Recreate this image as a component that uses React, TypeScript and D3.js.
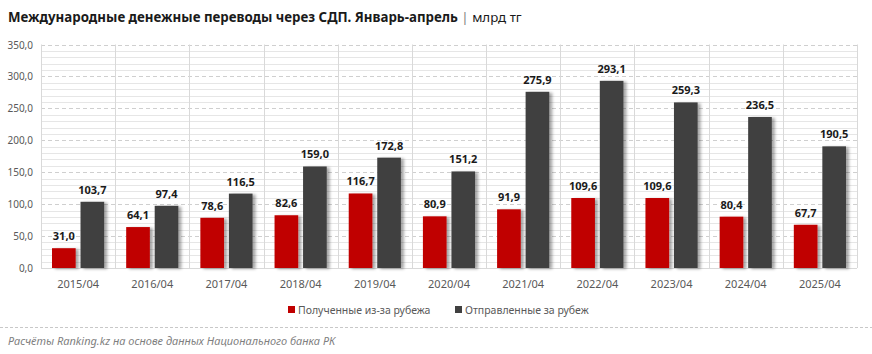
import { useEffect, useRef } from 'react';
import * as d3 from 'd3';

const categories = ['2015/04', '2016/04', '2017/04', '2018/04', '2019/04', '2020/04', '2021/04', '2022/04', '2023/04', '2024/04', '2025/04'];
const received = [31.0, 64.1, 78.6, 82.6, 116.7, 80.9, 91.9, 109.6, 109.6, 80.4, 67.7];
const sent = [103.7, 97.4, 116.5, 159.0, 172.8, 151.2, 275.9, 293.1, 259.3, 236.5, 190.5];
const seriesNames = ['Полученные из-за рубежа', 'Отправленные за рубеж'];
const colors = ['#C00000', '#404040'];

const W = 872;
const H = 354;
const font = '"Noto Sans", "Open Sans", sans-serif';

export default function App() {
    const svgRef = useRef<SVGSVGElement>(null);

    useEffect(() => {
        if (!svgRef.current) return;
        const root = d3.select(svgRef.current);
        root.selectAll('*').remove();

        const left = 41, right = 857, top = 44.5, bottom = 268;

        const defs = root.append('defs');
        const f = defs.append('filter').attr('id', 'shadow').attr('x', '-20%').attr('y', '-10%').attr('width', '160%').attr('height', '130%');
        f.append('feDropShadow').attr('dx', 3).attr('dy', 1).attr('stdDeviation', 1.8).attr('flood-color', '#000').attr('flood-opacity', 0.35);

        // Title
        const title = root.append('text').attr('x', 8).attr('y', 22)
            .style('font-family', font).style('font-size', '13.3px').style('fill', '#1a1a1a');
        title.append('tspan').style('font-weight', 'bold').text('Международные денежные переводы через СДП. Январь-апрель ');
        title.append('tspan').style('fill', '#808080').text('| ');
        title.append('tspan').text('млрд тг');

        const x = d3.scaleBand<string>().domain(categories).range([left, right]);
        const y = d3.scaleLinear().domain([0, 350]).range([bottom, top]);

        const g = root.append('g');

        // minor grid
        g.append('g').selectAll('line')
            .data(d3.range(0, 351, 10).filter(v => v % 50 !== 0))
            .join('line')
            .attr('x1', left).attr('x2', right)
            .attr('y1', d => Math.round(y(d)) + 0.5).attr('y2', d => Math.round(y(d)) + 0.5)
            .attr('stroke', '#e6e6e6').attr('stroke-width', 1);

        // major grid
        g.append('g').selectAll('line')
            .data(d3.range(50, 351, 50))
            .join('line')
            .attr('x1', left).attr('x2', right)
            .attr('y1', d => Math.round(y(d)) + 0.5).attr('y2', d => Math.round(y(d)) + 0.5)
            .attr('stroke', '#cfcfcf').attr('stroke-width', 1).attr('stroke-dasharray', '4,3');

        // vertical category lines
        g.append('g').selectAll('line')
            .data([...categories.map(c => x(c)!), right])
            .join('line')
            .attr('x1', d => Math.round(d) + 0.5).attr('x2', d => Math.round(d) + 0.5)
            .attr('y1', top).attr('y2', bottom)
            .attr('stroke', '#d9d9d9').attr('stroke-width', 1);

        // x axis line
        g.append('line').attr('x1', left).attr('x2', right)
            .attr('y1', Math.round(bottom) + 0.5).attr('y2', Math.round(bottom) + 0.5)
            .attr('stroke', '#d9d9d9');

        // y labels
        g.append('g').selectAll('text')
            .data(d3.range(0, 351, 50))
            .join('text')
            .attr('x', 33).attr('y', d => y(d) + 4)
            .attr('text-anchor', 'end')
            .style('font-family', font).style('font-size', '10px').style('fill', '#595959')
            .text(d => d.toFixed(1).replace('.', ','));

        // x labels
        g.append('g').selectAll('text')
            .data(categories)
            .join('text')
            .attr('x', d => x(d)! + x.bandwidth() / 2).attr('y', 288)
            .attr('text-anchor', 'middle')
            .style('font-family', font).style('font-size', '11px').style('fill', '#595959')
            .text(d => d);

        const inner = d3.scaleBand<number>().domain([0, 1]).range([11, x.bandwidth() - 11]).paddingInner(0.17);
        const series = [received, sent];

        series.forEach((vals, si) => {
            const sg = g.append('g');
            sg.selectAll('rect')
                .data(vals)
                .join('rect')
                .attr('x', (d, i) => x(categories[i])! + inner(si)!)
                .attr('width', inner.bandwidth())
                .attr('y', d => y(d))
                .attr('height', d => bottom - y(d))
                .attr('fill', colors[si])
                .attr('filter', 'url(#shadow)');
            sg.selectAll('text')
                .data(vals)
                .join('text')
                .attr('x', (d, i) => x(categories[i])! + inner(si)! + inner.bandwidth() / 2)
                .attr('y', d => y(d) - 8)
                .attr('text-anchor', 'middle')
                .style('font-family', font).style('font-size', '11px').style('font-weight', 'bold').style('fill', '#1a1a1a')
                .text(d => d.toFixed(1).replace('.', ','));
        });

        // legend
        const legendX = [288, 455];
        seriesNames.forEach((name, i) => {
            root.append('rect').attr('x', legendX[i]).attr('y', 306).attr('width', 7).attr('height', 7).attr('fill', colors[i]);
            root.append('text').attr('x', legendX[i] + 10).attr('y', 313.5)
                .style('font-family', font).style('font-size', '10.5px').style('fill', '#595959')
                .text(name);
        });

        // separator + source
        root.append('line').attr('x1', 0).attr('x2', W).attr('y1', 327.5).attr('y2', 327.5)
            .attr('stroke', '#c8c8c8').attr('stroke-dasharray', '3,2');
        root.append('text').attr('x', 8).attr('y', 345)
            .style('font-family', font).style('font-size', '11px').style('font-style', 'italic').style('fill', '#7f7f7f')
            .text('Расчёты Ranking.kz на основе данных Национального банка РК');
    }, []);

    return (
        <svg ref={svgRef} width={W} height={H} style={{ display: 'block', position: 'absolute', left: 0, top: 0, background: '#fff' }} />
    );
}
